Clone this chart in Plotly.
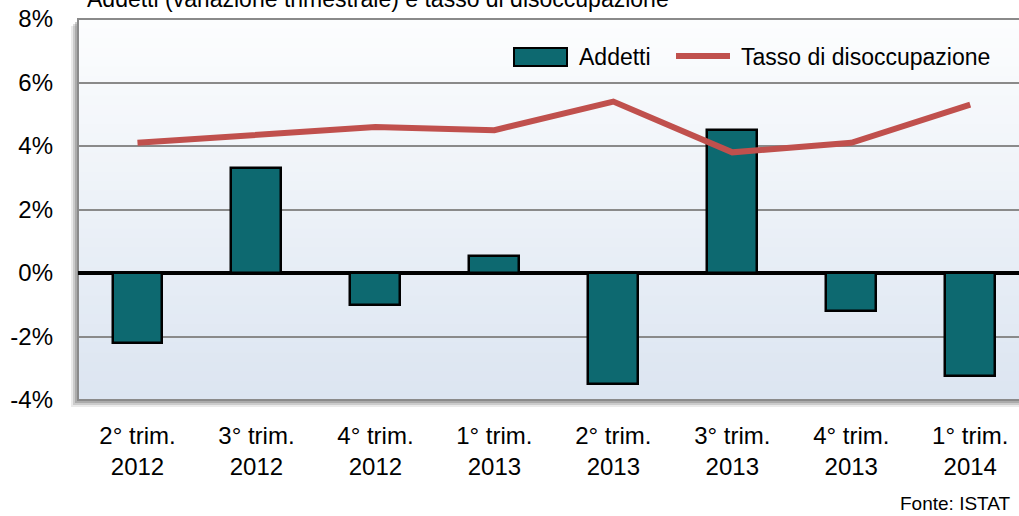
import plotly.graph_objects as go

# data
categories = ["2° trim.<br>2012", "3° trim.<br>2012", "4° trim.<br>2012", "1° trim.<br>2013",
              "2° trim.<br>2013", "3° trim.<br>2013", "4° trim.<br>2013", "1° trim.<br>2014"]
addetti = [-2.2, 3.3, -1.0, 0.55, -3.5, 4.5, -1.2, -3.25]
disoccupazione = [4.1, 4.35, 4.6, 4.5, 5.4, 3.8, 4.1, 5.3]
y_ticks = [-4, -2, 0, 2, 4, 6, 8]

W, H = 1019, 516
L, R, T, B = 78, 0, 19, 116
FONT = "Liberation Sans, Arial, sans-serif"

pw, ph = W - L - R, H - T - B


def px(x):
    return (x - L) / pw


def py(y):
    return (H - B - y) / ph


fig = go.Figure()
fig.add_trace(go.Bar(x=list(range(8)), y=addetti, width=0.42, name="Addetti",
                     marker=dict(color="#0d6970", line=dict(color="#000000", width=2.5)),
                     showlegend=False))
fig.add_trace(go.Scatter(x=list(range(8)), y=disoccupazione, mode="lines",
                         name="Tasso di disoccupazione",
                         line=dict(color="#c0504d", width=6), showlegend=False))

shapes = []
# shadow of plot frame
for off, op in [(7, 0.15), (5, 0.25), (3, 0.35)]:
    shapes.append(dict(type="rect", xref="paper", yref="paper", layer="below",
                       x0=px(L - off), x1=1.0, y0=py(H - B + off), y1=py(T + off),
                       fillcolor="#707070", opacity=op, line=dict(width=0)))
# gradient background (strips overlap a little to avoid seams)
n = 40
top, bot = (252, 253, 254), (220, 229, 241)
for i in range(n):
    f = i / (n - 1)
    c = tuple(int(round(top[k] + (bot[k] - top[k]) * f)) for k in range(3))
    shapes.append(dict(type="rect", xref="paper", yref="paper", layer="below",
                       x0=0, x1=1, y0=max(0, 1 - (i + 1.6) / n), y1=1 - i / n,
                       fillcolor="rgb(%d,%d,%d)" % c, line=dict(width=0)))
# frame
shapes.append(dict(type="rect", xref="paper", yref="paper", layer="below",
                   x0=0, x1=1.01, y0=0, y1=1, line=dict(color="#8a8a8a", width=2)))
# legend symbols
shapes.append(dict(type="rect", xref="paper", yref="paper",
                   x0=px(514), x1=px(567), y0=py(66), y1=py(48),
                   fillcolor="#0d6970", line=dict(color="#000000", width=2)))
shapes.append(dict(type="line", xref="paper", yref="paper",
                   x0=px(676), x1=px(730), y0=py(56), y1=py(56),
                   line=dict(color="#c0504d", width=6)))

annotations = [
    dict(text="Addetti (variazione trimestrale) e tasso di disoccupazione", xref="paper", yref="paper",
         x=px(85), y=py(-1), xanchor="left", yanchor="middle", showarrow=False,
         font=dict(size=23, color="#000000", family=FONT)),
    dict(text="Addetti", xref="paper", yref="paper", x=px(577), y=py(57),
         xanchor="left", yanchor="middle", showarrow=False,
         font=dict(size=23, color="#000000", family=FONT)),
    dict(text="Tasso di disoccupazione", xref="paper", yref="paper", x=px(739), y=py(57),
         xanchor="left", yanchor="middle", showarrow=False,
         font=dict(size=23, color="#000000", family=FONT)),
    dict(text="Fonte: ISTAT", xref="paper", yref="paper", x=px(1013), y=py(503),
         xanchor="right", yanchor="middle", showarrow=False,
         font=dict(size=19, color="#000000", family=FONT)),
]

fig.update_layout(
    width=W, height=H,
    margin=dict(l=L, r=R, t=T, b=B, pad=0, autoexpand=False),
    paper_bgcolor="#ffffff", plot_bgcolor="rgba(0,0,0,0)",
    font=dict(family=FONT, size=24, color="#000000"),
    shapes=shapes, annotations=annotations,
    showlegend=False, bargap=0,
)
fig.update_xaxes(range=[-0.5, 7.41], tickvals=list(range(8)), ticktext=categories,
                 showgrid=False, zeroline=False, showline=False, ticks="",
                 automargin=False, ticklabelstandoff=19,
                 tickfont=dict(size=24, family=FONT))
fig.update_yaxes(range=[-4, 8], tickvals=y_ticks, ticktext=["%d%%" % v for v in y_ticks],
                 showgrid=True, gridcolor="#8a8a8a", gridwidth=1.5,
                 zeroline=True, zerolinecolor="#000000", zerolinewidth=3.5,
                 showline=False, ticks="", ticklabelstandoff=24, automargin=False,
                 tickfont=dict(size=24, family=FONT))

# page has a default body margin; drop it so the figure fills the window
fig.write_html("out.html", config={"displayModeBar": False},
               post_script="document.body.style.margin='0';document.body.style.overflow='hidden';")
